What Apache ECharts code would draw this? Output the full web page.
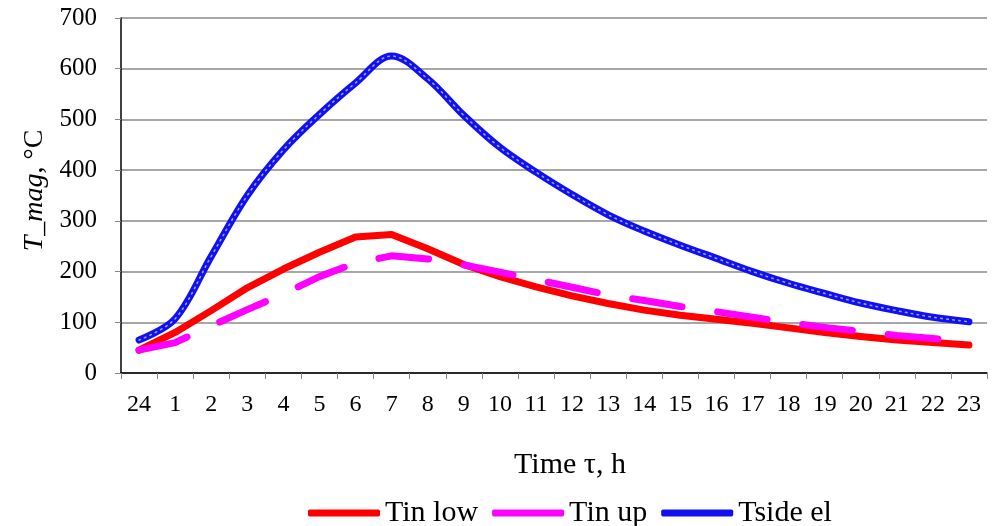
<!DOCTYPE html>
<html>
<head>
<meta charset="utf-8">
<script src="https://cdn.jsdelivr.net/npm/echarts@6/dist/echarts.min.js"></script>
<style>html,body{margin:0;padding:0;background:#fff;}#c{width:1001px;height:526px;}</style>
</head>
<body>
<div id="c"></div>
<script>
var categories = ['24','1','2','3','4','5','6','7','8','9','10','11','12','13','14','15','16','17','18','19','20','21','22','23'];
var tinLow  = [45, 80, 123, 168, 205, 238, 268, 273, 245, 214, 190, 170, 152, 137, 124, 114, 106, 98, 89, 80, 72, 65, 60, 55];
var tinUp   = [45, 60, 93, 125, 156, 190, 217, 231, 225, 213, 199, 184, 169, 154, 143, 131, 121, 110, 99, 90, 82, 74, 68, 60];
var tsideEl = [65, 107, 230, 350, 440, 510, 572, 625, 580, 508, 445, 396, 352, 312, 280, 252, 226, 200, 177, 157, 138, 123, 110, 101];
var yTicks = {min: 0, max: 700, interval: 100};

var FONT = 'Liberation Serif';
var chart = echarts.init(document.getElementById('c'), null, {renderer: 'canvas'});
chart.setOption({
  animation: false,
  backgroundColor: '#fff',
  grid: {left: 121, right: 14, top: 18, bottom: 153},
  legend: {
    top: 493,
    left: 303,
    data: ['Tin low', 'Tin up', 'Tside el'],
    icon: 'roundRect',
    itemWidth: 72,
    itemHeight: 7,
    itemGap: 14,
    textStyle: {fontFamily: FONT, fontSize: 30, color: '#000'}
  },
  xAxis: {
    type: 'category',
    data: categories,
    boundaryGap: true,
    name: 'Time τ, h',
    nameLocation: 'middle',
    nameGap: 77,
    nameTextStyle: {fontFamily: FONT, fontSize: 30, color: '#000', padding: [0, 0, 0, 32]},
    axisLine: {lineStyle: {color: '#000', width: 1.5}},
    axisTick: {show: true, length: 6, lineStyle: {color: '#888'}},
    axisLabel: {fontFamily: FONT, fontSize: 24, color: '#000', margin: 20, interval: 0}
  },
  yAxis: {
    type: 'value',
    min: yTicks.min, max: yTicks.max, interval: yTicks.interval,
    name: '{i|T_mag}, °C',
    nameLocation: 'middle',
    nameRotate: 90,
    nameGap: 55,
    nameTextStyle: {fontFamily: FONT, fontSize: 28, color: '#000', padding: [0, 0, 0, 10],
      rich: {i: {fontFamily: FONT, fontSize: 28, fontStyle: 'italic', color: '#000'}}},
    axisLine: {show: true, lineStyle: {color: '#000', width: 1.5}},
    axisTick: {show: true, length: 6, lineStyle: {color: '#888'}},
    axisLabel: {fontFamily: FONT, fontSize: 25, color: '#000', margin: 24},
    splitLine: {show: true, lineStyle: {color: '#8a8a8a', width: 1.5}}
  },
  series: [
    {
      name: 'Tin low', type: 'line', data: tinLow, showSymbol: false, symbol: 'none',
      color: '#ff0000',
      lineStyle: {color: '#ff0000', width: 7, cap: 'round', join: 'round'},
      z: 3
    },
    {
      name: 'Tin up', type: 'line', data: tinUp, showSymbol: false, symbol: 'none',
      color: '#ff00ff',
      lineStyle: {color: '#ff00ff', width: 7, type: [50, 36], cap: 'round', join: 'round'},
      z: 4
    },
    {
      name: 'Tside el', type: 'line', data: tsideEl, showSymbol: false, symbol: 'none',
      smooth: 0.35,
      color: '#1010f0',
      lineStyle: {color: '#1010f0', width: 7, cap: 'round', join: 'round'},
      z: 5
    },
    {
      name: 'Tside el dots', type: 'line', data: tsideEl, showSymbol: false, symbol: 'none',
      smooth: 0.35, silent: true,
      lineStyle: {color: 'rgba(200,210,255,0.75)', width: 1.6, type: [1.5, 4.5], cap: 'round'},
      z: 6
    }
  ]
});
</script>
</body>
</html>
